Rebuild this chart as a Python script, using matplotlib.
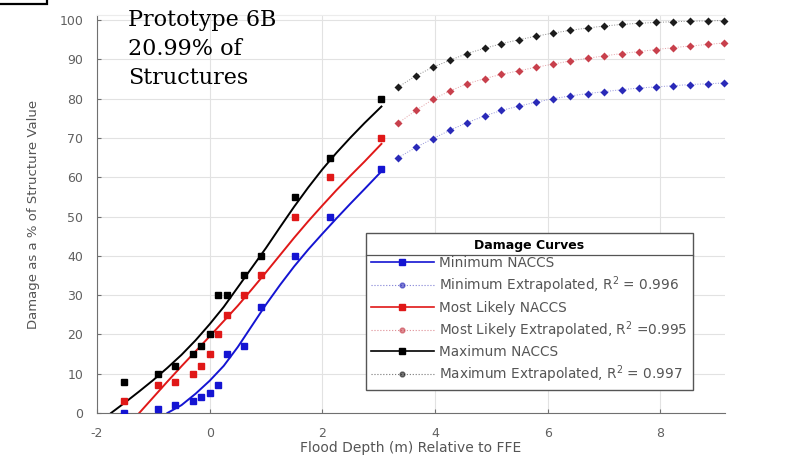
import matplotlib
matplotlib.use("Agg")
import matplotlib.pyplot as plt
from matplotlib.lines import Line2D
from matplotlib.patches import Rectangle

# NACCS points, depth in m (converted from ft)
naccs_depth = [-1.52, -0.91, -0.61, -0.30, -0.15, 0.0, 0.15, 0.30, 0.61, 0.91, 1.52, 2.13, 3.05]
naccs_min = [0, 1, 2, 3, 4, 5, 7, 15, 17, 27, 40, 50, 62]
naccs_likely = [3, 7, 8, 10, 12, 15, 20, 25, 30, 35, 50, 60, 70]
naccs_max = [8, 10, 12, 15, 17, 20, 30, 30, 35, 40, 55, 65, 80]

# fitted curves
fit_depth_min = [-0.75, -0.5, -0.25, 0.0, 0.25, 0.5, 0.75, 1.0, 1.25, 1.5, 1.75, 2.0, 2.25, 2.5, 2.75, 3.05]
fit_min = [0, 2.0, 4.9, 8.2, 12.0, 16.8, 22.2, 27.6, 32.6, 37.3, 41.6, 45.6, 49.5, 53.3, 57.0, 61.5]
fit_depth_likely = [-1.25, -1.0, -0.75, -0.5, -0.25, 0.0, 0.25, 0.5, 0.75, 1.0, 1.25, 1.5, 1.75, 2.0,
                    2.25, 2.5, 2.75, 3.05]
fit_likely = [0, 4.0, 8.0, 11.9, 15.7, 19.5, 23.4, 27.3, 31.5, 35.8, 40.2, 44.6, 48.8, 52.8,
              56.7, 60.4, 64.0, 68.5]
fit_depth_max = [-1.75, -1.5, -1.25, -1.0, -0.75, -0.5, -0.25, 0.0, 0.25, 0.5, 0.75, 1.0, 1.25, 1.5,
                 1.75, 2.0, 2.25, 2.5, 2.75, 3.05]
fit_max = [0, 2.7, 5.5, 8.4, 11.5, 14.8, 18.5, 22.6, 27.0, 32.0, 37.0, 42.0, 47.3, 52.5,
           57.4, 62.0, 66.2, 70.1, 73.8, 78.0]

# extrapolated points, 11 ft to 30 ft
ext_depth = [3.35, 3.66, 3.96, 4.27, 4.57, 4.88, 5.18, 5.49, 5.79, 6.10,
             6.40, 6.71, 7.01, 7.32, 7.62, 7.92, 8.23, 8.53, 8.84, 9.14]
ext_min = [65, 67.6, 69.8, 72, 73.9, 75.6, 77, 78.1, 79.1, 80, 80.7, 81.3, 81.8, 82.3, 82.7, 83, 83.3, 83.6, 83.8, 84.0]
ext_likely = [73.8, 77, 79.8, 82, 83.8, 85.1, 86.2, 87.1, 88, 88.8, 89.6, 90.3, 90.9, 91.5, 92, 92.5, 93, 93.4, 93.8, 94.2]
ext_max = [83, 85.8, 88, 89.8, 91.5, 92.8, 94, 95, 95.9, 96.7, 97.4, 98, 98.5, 98.9, 99.2, 99.4, 99.6, 99.7, 99.8, 99.9]

x_ticks = [-2, 0, 2, 4, 6, 8]
y_ticks = [0, 10, 20, 30, 40, 50, 60, 70, 80, 90, 100]

labels = ["Minimum NACCS", "Minimum Extrapolated, R$^2$ = 0.996",
          "Most Likely NACCS", "Most Likely Extrapolated, R$^2$ =0.995",
          "Maximum NACCS", "Maximum Extrapolated, R$^2$ = 0.997"]

plt.rcParams['font.family'] = ['DejaVu Sans']
plt.rcParams['axes.unicode_minus'] = False

fig = plt.figure(figsize=(8.08, 4.65), dpi=100)
ax = fig.add_axes([97 / 808, 1 - 413 / 465, 628 / 808, 398 / 465])

series = [
    (fit_depth_min, fit_min, naccs_min, ext_min, '#1414d2', '#2a2ab8'),
    (fit_depth_likely, fit_likely, naccs_likely, ext_likely, '#e01818', '#c8404c'),
    (fit_depth_max, fit_max, naccs_max, ext_max, '#000000', '#1c1c1c'),
]
handles = []
for fx, fy, pts, ext, col, ecol in series:
    ax.plot(fx, fy, '-', color=col, lw=1.4, zorder=3)
    ax.plot(naccs_depth, pts, 's', color=col, ms=5, zorder=4)
    ax.plot(ext_depth, ext, ':', color=ecol, lw=0.7, alpha=0.5, zorder=3)
    ax.plot(ext_depth, ext, 'D', color=ecol, ms=3.8, mec='none', zorder=4, clip_on=False)
    handles.append(Line2D([], [], color=col, lw=1.2, marker='s', ms=5))
    handles.append(Line2D([], [], color=ecol, lw=0.8, ls=':', alpha=0.6, marker='o', ms=3.5,
                          mec=ecol, mfc=ecol))

ax.set_xlim(-1.9, 9.15)
ax.set_ylim(0, 101.3)
ax.set_xticks(x_ticks)
ax.set_yticks(y_ticks)
ax.grid(True, color='#e2e2e2', lw=0.8)
ax.set_axisbelow(True)
ax.tick_params(direction='in', length=3, colors='#707070', labelcolor='#606060', labelsize=9)
ax.tick_params(axis='x', pad=10)
ax.tick_params(axis='y', pad=10)
for s in ['left', 'bottom']:
    ax.spines[s].set_color('#707070')
ax.spines['right'].set_visible(False)
ax.spines['top'].set_color('#ececec')

ax.set_xlabel("Flood Depth (m) Relative to FFE", fontsize=10, color='#555555', labelpad=1)
ax.set_ylabel("Damage as a % of Structure Value", fontsize=9.5, color='#555555', labelpad=14)

leg = ax.legend(handles, labels, title="Damage Curves", loc='lower right',
                bbox_to_anchor=(0.96, 0.04), fontsize=9.8, handlelength=4.6,
                labelspacing=0.32, borderpad=0.4, handletextpad=0.4,
                fancybox=False, framealpha=1, edgecolor='#555555')
leg.get_title().set_fontweight('bold')
leg.get_title().set_fontsize(9)
leg.get_frame().set_linewidth(1.0)
for t in leg.get_texts():
    t.set_color('#555555')

# separator line under the legend title
fig.canvas.draw()
fr = leg.get_frame().get_window_extent()
tt = leg.get_title().get_window_extent()
inv = fig.transFigure.inverted()
x0, y0 = inv.transform((fr.x0, tt.y0 - 3))
x1, _ = inv.transform((fr.x1, tt.y0 - 3))
fig.add_artist(Line2D([x0, x1], [y0, y0], color='#555555', lw=0.9))

fig.text(128 / 808, 1 - 9 / 465, "Prototype 6B\n20.99% of\nStructures", fontsize=16,
         family=['DejaVu Serif'], va='top', ha='left', linespacing=1.4)

fig.add_artist(Rectangle((-0.01, 1 - 4 / 465), 55 / 808, 0.05, transform=fig.transFigure,
                         fill=False, edgecolor='black', lw=1.6))

fig.savefig("out.png", dpi=100)
